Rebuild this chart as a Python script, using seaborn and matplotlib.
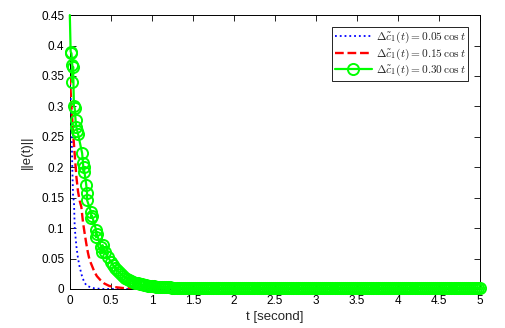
import matplotlib
matplotlib.use("Agg")
import matplotlib.pyplot as plt
from matplotlib.lines import Line2D
import numpy as np
import seaborn as sns

# data
# -----------------------------------
blue_t = [0, 0.01, 0.02, 0.03, 0.04, 0.05, 0.06, 0.07, 0.08, 0.10, 0.12,
          0.15, 0.18, 0.21, 0.25, 0.30, 0.40, 0.50, 1.0, 2.0, 3.0, 4.0, 5.0]
blue_e = [0.345, 0.32, 0.27, 0.20, 0.15, 0.145, 0.10, 0.085, 0.07, 0.05, 0.036,
          0.02, 0.01, 0.005, 0.003, 0.001, 0.0, 0.0, 0.0, 0.0, 0.0, 0.0, 0.0]

red_t = [0, 0.02, 0.04, 0.06, 0.08, 0.10, 0.12, 0.14, 0.16, 0.18, 0.20, 0.22,
         0.24, 0.27, 0.30, 0.33, 0.37, 0.42, 0.48, 0.55, 0.65, 0.75, 0.90, 1.0,
         2.0, 3.0, 4.0, 5.0]
red_e = [0.35, 0.30, 0.256, 0.22, 0.184, 0.16, 0.145, 0.135, 0.11, 0.092, 0.075,
         0.06, 0.048, 0.038, 0.028, 0.021, 0.015, 0.009, 0.005, 0.003, 0.0015,
         0.001, 0.0005, 0.0, 0.0, 0.0, 0.0, 0.0]

# head of the green curve, clustered samples
green_t_head = [0, 0.01, 0.02, 0.03, 0.03, 0.04, 0.05, 0.06, 0.07, 0.08, 0.09,
                0.10, 0.15, 0.16, 0.17, 0.17, 0.20, 0.21, 0.21, 0.26, 0.26, 0.27,
                0.32, 0.32, 0.33, 0.38, 0.39, 0.40, 0.43, 0.46, 0.50]
green_e_head = [0.45, 0.39, 0.387, 0.368, 0.34, 0.365, 0.30, 0.297, 0.277, 0.266,
                0.26, 0.255, 0.223, 0.207, 0.192, 0.20, 0.171, 0.157, 0.146, 0.126,
                0.117, 0.12, 0.097, 0.085, 0.09, 0.069, 0.061, 0.072, 0.06, 0.053,
                0.045]
# tail of the green curve, t = 0.525 ... 5.0 every 0.025
green_e_tail = [
    0.0396, 0.0349, 0.0308, 0.0272, 0.0240, 0.0213, 0.0188, 0.0167, 0.0148, 0.0132,
    0.0117, 0.0105, 0.0094, 0.0084, 0.0075, 0.0068, 0.0062, 0.0056, 0.0051, 0.0046,
    0.0042, 0.0039, 0.0036, 0.0034, 0.0031, 0.0029, 0.0028, 0.0026, 0.0025, 0.0023,
    0.0022, 0.0021, 0.0020, 0.0020, 0.0019, 0.0019, 0.0018, 0.0018, 0.0017, 0.0017,
    0.0017, 0.0017, 0.0017, 0.0017, 0.0017, 0.0017, 0.0017, 0.0017, 0.0017, 0.0017,
    0.0016, 0.0016, 0.0016, 0.0016, 0.0016, 0.0016, 0.0016, 0.0016, 0.0016, 0.0016,
    0.0016, 0.0016, 0.0016, 0.0016, 0.0016, 0.0016, 0.0016, 0.0016, 0.0016, 0.0016,
    0.0016, 0.0016, 0.0016, 0.0016, 0.0016, 0.0016, 0.0016, 0.0016, 0.0016, 0.0016,
    0.0015, 0.0015, 0.0015, 0.0015, 0.0015, 0.0015, 0.0015, 0.0015, 0.0015, 0.0015,
    0.0015, 0.0015, 0.0015, 0.0015, 0.0015, 0.0015, 0.0015, 0.0015, 0.0015, 0.0015,
    0.0015, 0.0015, 0.0015, 0.0015, 0.0015, 0.0015, 0.0015, 0.0015, 0.0015, 0.0015,
    0.0015, 0.0015, 0.0015, 0.0015, 0.0015, 0.0015, 0.0015, 0.0015, 0.0015, 0.0015,
    0.0015, 0.0015, 0.0015, 0.0015, 0.0015, 0.0015, 0.0015, 0.0015, 0.0015, 0.0015,
    0.0015, 0.0015, 0.0015, 0.0015, 0.0015, 0.0015, 0.0015, 0.0015, 0.0015, 0.0015,
    0.0014, 0.0014, 0.0014, 0.0014, 0.0014, 0.0014, 0.0014, 0.0014, 0.0014, 0.0014,
    0.0014, 0.0014, 0.0014, 0.0014, 0.0014, 0.0014, 0.0014, 0.0014, 0.0014, 0.0014,
    0.0014, 0.0014, 0.0014, 0.0014, 0.0014, 0.0014, 0.0014, 0.0014, 0.0014, 0.0014,
    0.0014, 0.0014, 0.0014, 0.0014, 0.0014, 0.0014, 0.0014, 0.0014, 0.0014, 0.0014,
]
green_t_tail = np.round(np.linspace(0.525, 5.0, len(green_e_tail)), 4).tolist()

green_t = green_t_head + green_t_tail
green_e = green_e_head + green_e_tail

labels = [r"$\Delta\tilde{c}_1(t) = 0.05\,\cos t$",
          r"$\Delta\tilde{c}_1(t) = 0.15\,\cos t$",
          r"$\Delta\tilde{c}_1(t) = 0.30\,\cos t$"]
x_ticks = [0, 0.5, 1, 1.5, 2, 2.5, 3, 3.5, 4, 4.5, 5]
y_ticks = [0, 0.05, 0.1, 0.15, 0.2, 0.25, 0.3, 0.35, 0.4, 0.45]

BLUE, RED, GREEN = (0, 0, 1), (1, 0, 0), (0, 1, 0)

sns.set_theme(style="ticks")
plt.rcParams["font.family"] = ["Liberation Sans", "DejaVu Sans"]
plt.rcParams["mathtext.fontset"] = "cm"

fig = plt.figure(figsize=(5.06, 3.28), dpi=100)
ax = fig.add_axes([0.138, 0.119, 0.811, 0.835])

common = dict(estimator=None, sort=False, ax=ax, legend=False)
sns.lineplot(x=blue_t, y=blue_e, color=BLUE, linestyle=":", linewidth=1.3,
             **common)
sns.lineplot(x=red_t, y=red_e, color=RED, linestyle="--", linewidth=1.7,
             **common)
# markers skip the first sample (it sits on the top spine)
sns.lineplot(x=green_t, y=green_e, color=GREEN, linestyle="-", linewidth=1.6,
             marker="o", markersize=8, markerfacecolor="none",
             markeredgecolor=GREEN, markeredgewidth=1.4,
             markevery=slice(1, None), clip_on=False, **common)

ax.set_xlim(0, 5)
ax.set_ylim(0, 0.45)
ax.set_xticks(x_ticks)
ax.set_xticklabels([f"{v:g}" for v in x_ticks])
ax.set_yticks(y_ticks)
ax.set_yticklabels([f"{v:g}" for v in y_ticks])
ax.tick_params(direction="in", top=True, right=True, length=4, width=0.6,
               labelsize=8.5, colors="black", pad=4)
for sp in ax.spines.values():
    sp.set_linewidth(0.7)
    sp.set_color("black")
    sp.set_zorder(1)
ax.set_xlabel("t [second]", fontsize=9.5, labelpad=3)
ax.set_ylabel("||e(t)||", fontsize=9.5, labelpad=6)

handles = [
    Line2D([], [], color=BLUE, linestyle=":", linewidth=1.3),
    Line2D([], [], color=RED, linestyle="--", linewidth=1.7),
    Line2D([], [], color=GREEN, linestyle="-", linewidth=1.6, marker="o",
           markersize=8, markerfacecolor="none", markeredgewidth=1.4),
]
leg = ax.legend(handles, labels, loc="upper right", fontsize=8.2, frameon=True,
                fancybox=False, framealpha=1, edgecolor="black",
                handlelength=3.3, borderpad=0.25, labelspacing=0.1,
                handletextpad=0.3, borderaxespad=1.05)
leg.get_frame().set_linewidth(0.6)
leg.set_zorder(5)

fig.savefig("out.png", dpi=100)
